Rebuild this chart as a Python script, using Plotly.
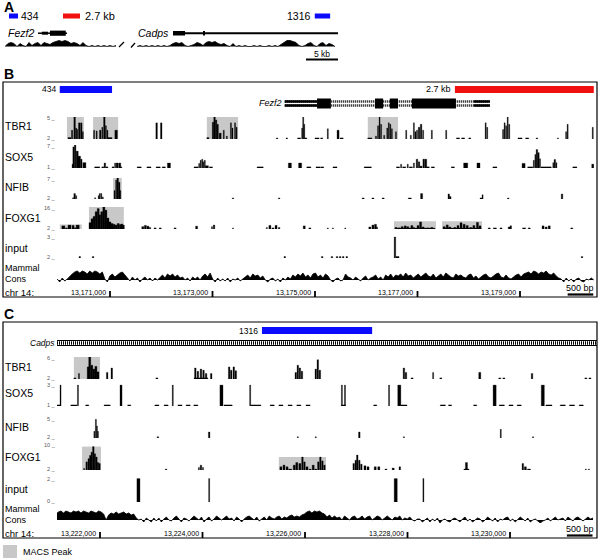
import numpy as np
import plotly.graph_objects as go

# ======================= DATA =======================
# ---- Panel A (kb along the displayed Fezf2 .. Cadps interval) ----
A_VIEW_KB = [0.0, 52.03]
A_REGION_434 = [0.62, 2.03]
A_REGION_27KB = [9.06, 11.72]
A_REGION_1316 = [48.4, 50.8]
A_FEZF2_TX = [5.16, 9.69]
A_FEZF2_UTR = [5.16, 6.72]
A_FEZF2_CDS = [6.72, 9.69]
A_CADPS_TX = [26.25, 52.03]
A_CADPS_EXON_START = [26.25, 30.94]
A_CADPS_EXON_END = [28.13, 31.25]
A_SCALE_5KB = [47.03, 52.03]
# conservation levels (arbitrary units, 0 = baseline)
A_CONS_LEFT_KB = [0.0, 17.34]
A_CONS_LEFT = [0, 3, 4, 3, 0, 3, 1, 0, 4, 1, 3, 4, 1, 4, 3, 2, 4, 5, 6, 5, 6, 5, 3, 4, 3, 1, 4, 1, 0,
               1, 0, 1, 0, 1, 0, 1, 0, 1]
A_CONS_RIGHT_KB = [20.63, 51.56]
A_CONS_RIGHT = [0, 1, 0, 1, 0, 1, 0, 1, 0, 1, 0, 1, 3, 4, 3, 4, 1, 0, 1, 2, 4, 3, 1, 4, 5, 4, 5, 3, 2,
                3, 1, 0, 3, 0, 1, 0, 1, 0, 0, 1, 0, 1, 0, 0, 1, 0, 1, 0, 2, 4, 6, 6, 5, 4, 1, 0, 1, 3,
                4, 1, 0, 3, 4, 1, 3, 2, 0]

# ---- Panel B (chr14, kb) ----
B_VIEW = [13169.966, 13180.444]
B_TICKS = [13171, 13173, 13175, 13177, 13179]
B_TICK_LABELS = ["13,171,000", "13,173,000", "13,175,000", "13,177,000", "13,179,000"]
B_REGION_434 = [13170.02, 13171.04]
B_REGION_27KB = [13177.73, 13180.44]
B_SCALE_500BP = [13179.93, 13180.43]
FEZF2_TX = [13174.41, 13178.41]
FEZF2_EXON_START = [13175.04, 13176.17, 13176.46, 13176.89]
FEZF2_EXON_END = [13175.31, 13176.33, 13176.62, 13177.75]
FEZF2_SOLID_START = [13174.41, 13178.10]
FEZF2_SOLID_END = [13175.04, 13178.41]

B_TBR1_POS = [13170.21, 13170.26, 13170.31, 13170.34, 13170.36, 13170.40, 13170.44, 13170.47,
              13170.69, 13170.74, 13170.81, 13170.85, 13170.89, 13170.92, 13170.95, 13171.00, 13171.12,
              13171.91, 13172.00,
              13172.91, 13173.01, 13173.04, 13173.07, 13173.10, 13173.15, 13173.22, 13173.28, 13173.36, 13173.39, 13173.44, 13173.47,
              13174.26, 13174.45, 13174.69, 13174.75, 13174.77, 13174.79, 13174.82, 13175.04, 13175.13, 13175.25, 13175.45, 13175.52,
              13176.07, 13176.19, 13176.23, 13176.26, 13176.29, 13176.35, 13176.41, 13176.44, 13176.47, 13176.50, 13176.58,
              13176.78, 13176.87, 13176.93, 13176.96, 13176.99, 13177.03, 13177.07, 13177.11, 13177.28, 13177.56,
              13177.79, 13177.89, 13178.02, 13178.33, 13178.36, 13178.67, 13178.70, 13178.73, 13178.76, 13178.79,
              13179.00, 13179.14, 13179.33, 13179.74, 13179.90, 13179.93, 13180.42]
B_TBR1_WID = [0.06, 0.025, 0.03, 0.02, 0.02, 0.03, 0.03, 0.02,
              0.02, 0.02, 0.03, 0.02, 0.03, 0.02, 0.02, 0.08, 0.05,
              0.03, 0.03,
              0.04, 0.03, 0.03, 0.03, 0.03, 0.04, 0.02, 0.02, 0.02, 0.02, 0.02, 0.02,
              0.03, 0.03, 0.06, 0.02, 0.02, 0.02, 0.04, 0.08, 0.04, 0.02, 0.04, 0.06,
              0.08, 0.02, 0.02, 0.02, 0.02, 0.02, 0.02, 0.02, 0.02, 0.02, 0.02,
              0.02, 0.02, 0.02, 0.02, 0.02, 0.03, 0.03, 0.02, 0.02, 0.02,
              0.06, 0.06, 0.04, 0.02, 0.02, 0.02, 0.02, 0.02, 0.02, 0.02,
              0.08, 0.06, 0.03, 0.02, 0.02, 0.02, 0.02]
B_TBR1_VAL = [2.2, 3.2, 5.0, 3.5, 3.3, 4.2, 4.2, 3.0,
              3.2, 3.1, 3.2, 3.6, 5.0, 3.8, 3.2, 2.2, 3.2,
              4.2, 4.2,
              2.2, 4.3, 5.0, 4.6, 4.0, 2.8, 3.2, 2.4, 4.2, 3.5, 4.2, 3.6,
              2.15, 2.15, 2.15, 3.5, 5.0, 4.0, 2.15, 2.15, 2.15, 3.4, 3.2, 2.15,
              2.15, 2.4, 3.8, 5.0, 4.0, 2.5, 3.5, 4.2, 4.0, 3.4, 3.0,
              3.2, 2.5, 4.2, 3.0, 3.2, 3.6, 4.0, 3.2, 3.2, 3.2,
              2.15, 2.15, 2.15, 4.2, 3.6, 3.3, 4.2, 3.8, 5.0, 4.0,
              2.15, 2.15, 2.15, 2.15, 3.0, 4.0, 3.6]

B_SOX5_POS = [13170.27, 13170.29, 13170.32, 13170.36, 13170.40, 13170.44, 13170.50,
              13170.75, 13170.86, 13170.90, 13170.94,
              13171.06, 13171.10, 13171.14, 13171.19, 13171.21,
              13171.57, 13171.76, 13171.94, 13172.05, 13172.15,
              13172.68, 13172.74, 13172.77, 13172.80, 13172.82, 13172.85, 13172.89, 13172.97,
              13173.93, 13174.51, 13174.71, 13174.88, 13175.06, 13175.14, 13175.39, 13176.03,
              13176.62, 13176.68, 13176.74, 13176.81, 13176.87, 13176.93, 13176.99, 13177.03, 13177.07, 13177.12, 13177.16, 13177.20, 13177.30,
              13177.69, 13177.94, 13178.19, 13178.51, 13179.07, 13179.20,
              13179.27, 13179.30, 13179.33, 13179.36, 13179.39, 13179.51,
              13179.65, 13179.68, 13179.71, 13180.07, 13180.42]
B_SOX5_WID = [0.02, 0.03, 0.03, 0.04, 0.05, 0.03, 0.06,
              0.1, 0.04, 0.03, 0.04,
              0.04, 0.02, 0.04, 0.04, 0.04,
              0.08, 0.08, 0.08, 0.06, 0.06,
              0.08, 0.02, 0.02, 0.02, 0.02, 0.02, 0.06, 0.06,
              0.12, 0.06, 0.06, 0.08, 0.08, 0.06, 0.08, 0.14,
              0.06, 0.02, 0.06, 0.02, 0.06, 0.02, 0.03, 0.03, 0.04, 0.03, 0.04, 0.06, 0.06,
              0.06, 0.08, 0.06, 0.08, 0.06, 0.1,
              0.02, 0.02, 0.03, 0.03, 0.02, 0.2,
              0.02, 0.03, 0.02, 0.08, 0.04]
B_SOX5_VAL = [2.0, 6.5, 7.0, 5.4, 4.1, 3.3, 2.4,
              1.3, 1.3, 2.3, 1.3,
              1.3, 2.3, 2.3, 2.3, 1.3,
              1.3, 1.3, 1.3, 1.3, 2.3,
              1.3, 2.2, 3.0, 3.3, 2.6, 3.0, 1.6, 1.3,
              1.3, 2.3, 2.3, 1.3, 1.3, 1.3, 1.3, 1.3,
              1.3, 2.0, 1.3, 2.0, 1.3, 2.3, 3.3, 2.6, 1.5, 3.3, 3.3, 1.3, 1.3,
              1.3, 2.3, 2.3, 1.3, 2.2, 1.3,
              3.0, 4.5, 5.8, 5.0, 3.4, 1.3,
              2.4, 3.2, 2.4, 1.3, 2.0]

B_NFIB_POS = [13170.28, 13170.31, 13170.34, 13170.71, 13170.78, 13170.80, 13170.83, 13170.86,
              13171.09, 13171.12, 13171.15, 13171.18, 13171.20,
              13173.40, 13174.30, 13175.94, 13176.13, 13176.33, 13176.85, 13177.08, 13177.61, 13177.64,
              13178.24, 13178.27, 13178.77, 13179.82]
B_NFIB_WID = [0.02, 0.03, 0.02, 0.02, 0.02, 0.02, 0.02, 0.02,
              0.02, 0.02, 0.03, 0.03, 0.02,
              0.03, 0.03, 0.04, 0.04, 0.04, 0.06, 0.04, 0.03, 0.03, 0.04, 0.02, 0.03, 0.03]
B_NFIB_VAL = [2.3, 3.3, 2.8, 2.3, 2.8, 3.3, 3.3, 2.5,
              4.0, 6.5, 7.0, 6.0, 4.0,
              2.25, 2.25, 2.25, 2.25, 2.25, 2.25, 3.3, 3.2, 2.6, 2.25, 3.0, 2.25, 3.2]

B_FOXG1_POS = [13170.09, 13170.15, 13170.21, 13170.28, 13170.32, 13170.37,
               13170.61, 13170.65, 13170.69, 13170.73, 13170.77, 13170.80, 13170.84, 13170.88, 13170.92,
               13170.96, 13171.00, 13171.04, 13171.08, 13171.12, 13171.16, 13171.20, 13171.23, 13171.26,
               13171.64, 13171.69, 13171.74, 13171.78, 13171.88, 13171.98, 13172.27, 13172.69, 13172.99,
               13173.03, 13173.40, 13174.06, 13174.12, 13174.18, 13174.24, 13174.30, 13174.79, 13174.90,
               13175.25, 13175.35, 13175.59, 13176.07, 13176.13, 13176.18, 13176.21,
               13176.95, 13176.58, 13176.64, 13176.70, 13176.76, 13176.81, 13176.89, 13176.93, 13177.01,
               13177.06, 13177.11, 13177.20, 13177.28,
               13177.87, 13177.52, 13177.58, 13177.63, 13177.73, 13177.79, 13177.85, 13177.91, 13177.97,
               13178.04, 13178.10, 13178.17, 13178.22,
               13178.40, 13178.51, 13178.63, 13178.79, 13178.82, 13179.08, 13179.18, 13179.45, 13179.51,
               13179.57, 13180.01]
B_FOXG1_WID = [0.06, 0.04, 0.06, 0.04, 0.03, 0.06,
               0.04, 0.04, 0.04, 0.04, 0.04, 0.04, 0.04, 0.04, 0.04,
               0.04, 0.04, 0.04, 0.04, 0.04, 0.04, 0.04, 0.04, 0.04,
               0.04, 0.04, 0.04, 0.03, 0.04, 0.04, 0.04, 0.04, 0.02,
               0.03, 0.02, 0.02, 0.04, 0.04, 0.04, 0.03, 0.04, 0.04,
               0.02, 0.02, 0.02, 0.04, 0.04, 0.04, 0.02,
               0.78, 0.04, 0.04, 0.04, 0.04, 0.04, 0.04, 0.03, 0.04,
               0.04, 0.04, 0.04, 0.04,
               0.74, 0.04, 0.04, 0.04, 0.04, 0.04, 0.04, 0.04, 0.04,
               0.04, 0.04, 0.04, 0.04,
               0.04, 0.06, 0.04, 0.04, 0.03, 0.06, 0.04, 0.04, 0.04,
               0.04, 0.04]
B_FOXG1_VAL = [4.0, 2.7, 4.5, 4.3, 2.8, 4.5,
               6.0, 8.5, 10.0, 13.0, 15.0, 11.0, 13.0, 16.0, 14.0,
               9.0, 6.5, 5.5, 5.0, 4.5, 5.5, 4.8, 5.2, 4.5,
               3.5, 4.3, 3.8, 3.0, 2.7, 2.7, 2.7, 3.8, 3.5,
               4.5, 2.7, 3.0, 4.3, 2.7, 4.3, 3.0, 4.0, 2.7,
               2.7, 2.7, 2.7, 3.3, 4.5, 5.0, 3.2,
               2.6, 3.0, 2.7, 3.5, 4.0, 3.5, 4.2, 3.0, 4.2,
               6.5, 3.3, 2.7, 3.0,
               2.6, 3.5, 4.6, 3.3, 3.0, 4.2, 6.0, 5.0, 4.2,
               3.0, 4.2, 6.2, 4.0,
               2.7, 2.7, 2.7, 3.3, 4.0, 2.7, 2.7, 4.0, 3.3,
               4.0, 2.7]

B_INPUT_POS = [13170.41, 13170.67, 13174.41, 13175.14, 13175.33, 13175.43, 13175.49, 13175.55,
               13175.62, 13176.56, 13176.61, 13180.21]
B_INPUT_WID = [0.03, 0.03, 0.03, 0.03, 0.03, 0.03, 0.03, 0.03, 0.03, 0.03, 0.06, 0.03]
B_INPUT_VAL = [2.07, 2.07, 2.07, 2.07, 2.07, 2.07, 2.07, 2.07, 2.07, 2.95, 2.07, 2.07]

B_TBR1_MACS = dict(start=[13170.16, 13170.67, 13172.89, 13176.03], end=[13170.49, 13171.16, 13173.50, 13176.62], top=[5, 5, 5, 5])
B_NFIB_MACS = dict(start=[13171.06], end=[13171.23], top=[7])
B_FOXG1_MACS = dict(start=[13170.02, 13170.59, 13176.54, 13177.48], end=[13170.45, 13171.27, 13177.36, 13178.26], top=[4.9, 16, 7, 7])

B_CONS_RANGE = [13169.97, 13180.44]
B_CONS = [1, -2, 2, -1, 1,
          4, 6, 8, 9, 7, 9, 8, 6, 9, 7, 9, 8, 6, 8,
          1, -2,
          4, 6, 3, 5,
          7, 8, 5,
          2, -1, 3, 0, 2, -2, 1, 3, 0, 2, -1, 2, 0,
          3, 5, 2, 6, 4, 6, 3, 5, 2, 3,
          0, 2, -1, 3, 1, 3, 0, 4,
          6, 3, 7,
          1, -2, 2, -1, 1, -1, 2, -2, 1, 0, 2, -1, 1,
          3, 5, 2, 6, 4, 5, 2, 4,
          0, -2, 1, 2, -1, 1, -2, 2, 0, 3, 1,
          5, 3, 6, 4, 7, 3, 5, 2, 6, 7, 3, 5, 2, 6, 4,
          0, -2, 1, 2, -1, 0,
          6, 3,
          2, 0, 3, 1, -1, 2, 4, 0, 2, 3, 5, 1, 3, 0,
          5, 3, 6, 2, 5, 4, 6, 3, 7, 4, 5, 2, 4, 6, 3, 5, 7, 4, 3, 6, 2, 4, 6, 3, 7, 5, 3, 2,
          6, 4, 5, 3, 2, 5, 6, 2, 4, 1, 3, 5, 6, 3, 2, 4, 6, 7, 3, 2, 5, 2, 1, 3, 5, 6, 3, 6,
          7, 8, 6, 9, 8, 6, 8, 7, 9, 6, 5, 7, 4, 2,
          1, -2, 2, -1, 1, -2, 1, 2, -1, -2, 1, 0, 2, 0]

# ---- Panel C (chr14, kb) ----
C_VIEW = [13221.161, 13231.639]
C_TICKS = [13222, 13224, 13226, 13228, 13230]
C_TICK_LABELS = ["13,222,000", "13,224,000", "13,226,000", "13,228,000", "13,230,000"]
C_REGION_1316 = [13225.16, 13227.31]
C_SCALE_500BP = [13231.11, 13231.61]

C_TBR1_POS = [13221.51, 13221.59, 13221.77, 13221.80, 13221.84, 13221.88, 13221.92, 13221.96, 13222.14, 13222.23,
              13223.11, 13223.97, 13223.86, 13223.91, 13223.97, 13224.02, 13224.07, 13224.17, 13224.52, 13224.56,
              13224.61, 13224.65, 13225.82, 13225.86, 13225.90, 13225.94, 13226.21, 13226.25, 13226.29, 13227.93,
              13227.97, 13228.09, 13228.50, 13228.65, 13229.41, 13229.80, 13229.88, 13230.43, 13231.48, 13231.56]
C_TBR1_WID = [0.04, 0.02, 0.04, 0.04, 0.04, 0.04, 0.04, 0.04, 0.03, 0.03,
              0.04, 0.27, 0.03, 0.03, 0.03, 0.03, 0.03, 0.03, 0.03, 0.03,
              0.03, 0.03, 0.03, 0.03, 0.03, 0.03, 0.03, 0.03, 0.03, 0.03,
              0.03, 0.04, 0.02, 0.04, 0.04, 0.04, 0.04, 0.03, 0.04, 0.04]
C_TBR1_VAL = [2.2, 3.0, 4.2, 6.0, 4.5, 3.8, 4.3, 3.3, 3.2, 4.0,
              2.2, 2.2, 4.0, 3.4, 3.8, 3.6, 3.0, 3.0, 4.2, 3.6,
              4.2, 3.5, 3.2, 4.5, 4.0, 3.4, 3.8, 5.5, 3.6, 4.0,
              3.2, 2.2, 3.2, 2.2, 3.2, 2.2, 2.2, 3.0, 2.2, 2.2]

C_SOX5_POS = [13221.18, 13221.23, 13221.49, 13221.57, 13221.75, 13222.14, 13222.41, 13222.57, 13223.11, 13223.29,
              13223.42, 13223.56, 13223.72, 13223.87, 13224.37, 13224.50, 13224.93, 13225.04, 13225.36, 13225.53,
              13225.71, 13225.88, 13226.06, 13226.72, 13226.75, 13226.78, 13227.37, 13227.64, 13227.84, 13227.93,
              13228.69, 13228.83, 13229.32, 13229.70, 13229.84, 13230.02, 13230.18, 13230.64, 13230.76, 13231.03,
              13231.21, 13231.39]
C_SOX5_WID = [0.08, 0.02, 0.12, 0.02, 0.06, 0.12, 0.04, 0.06, 0.08, 0.08,
              0.02, 0.08, 0.08, 0.08, 0.06, 0.16, 0.02, 0.2, 0.08, 0.08,
              0.08, 0.08, 0.08, 0.02, 0.08, 0.02, 0.06, 0.02, 0.06, 0.12,
              0.1, 0.06, 0.06, 0.06, 0.1, 0.08, 0.08, 0.06, 0.12, 0.1,
              0.1, 0.08]
C_SOX5_VAL = [1.1, 2.9, 1.1, 2.9, 1.1, 1.1, 2.9, 1.1, 1.1, 1.1,
              2.9, 1.1, 1.1, 1.1, 2.9, 1.1, 2.9, 1.1, 1.1, 1.1,
              1.1, 1.1, 1.1, 2.9, 1.1, 2.9, 1.1, 2.9, 2.9, 1.1,
              1.1, 1.1, 1.1, 2.9, 1.1, 1.1, 1.1, 2.9, 1.1, 1.1,
              1.1, 1.1]

C_NFIB_POS = [13221.89, 13221.92, 13221.94, 13221.96, 13223.13, 13224.13, 13225.86, 13226.21, 13227.06, 13227.93,
              13229.82, 13230.45]
C_NFIB_WID = [0.02, 0.02, 0.02, 0.02, 0.03, 0.03, 0.02, 0.02, 0.03, 0.02, 0.02, 0.02]
C_NFIB_VAL = [3.0, 4.8, 3.8, 3.0, 2.2, 2.9, 2.2, 2.2, 2.9, 2.2, 3.3, 2.2]

C_FOXG1_POS = [13221.69, 13221.74, 13221.78, 13221.81, 13221.84, 13221.87, 13221.90, 13221.93, 13221.96, 13221.99,
               13223.29, 13223.93, 13223.97, 13224.01, 13225.53, 13225.59, 13225.65, 13225.71, 13225.79, 13225.84,
               13225.90, 13225.95, 13225.99, 13226.04, 13226.10, 13226.16, 13226.21, 13226.26, 13226.30, 13226.34,
               13226.38, 13226.95, 13226.99, 13227.02, 13227.06, 13227.10, 13227.17, 13227.23, 13227.37, 13227.44,
               13227.58, 13227.72, 13227.85, 13229.15, 13229.15, 13230.25, 13230.30, 13230.37, 13231.48, 13231.54]
C_FOXG1_WID = [0.02, 0.03, 0.03, 0.03, 0.03, 0.03, 0.03, 0.03, 0.03, 0.03,
               0.03, 0.02, 0.03, 0.02, 0.04, 0.04, 0.04, 0.06, 0.04, 0.04,
               0.04, 0.03, 0.03, 0.04, 0.04, 0.04, 0.04, 0.03, 0.03, 0.03,
               0.03, 0.03, 0.03, 0.03, 0.03, 0.03, 0.04, 0.04, 0.04, 0.04,
               0.04, 0.04, 0.03, 0.1, 0.04, 0.03, 0.04, 0.06, 0.02, 0.02]
C_FOXG1_VAL = [2.5, 4.5, 5.5, 6.5, 7.5, 9.2, 7.0, 6.0, 4.3, 4.0,
               2.3, 2.8, 3.5, 2.8, 3.0, 3.5, 3.0, 2.3, 3.5, 4.3,
               4.0, 6.0, 4.5, 3.0, 2.3, 3.5, 2.3, 4.5, 6.0, 4.8,
               3.5, 4.0, 5.0, 6.6, 5.0, 3.8, 3.3, 3.0, 3.0, 3.0,
               2.3, 2.6, 3.0, 2.3, 4.3, 4.0, 3.0, 2.3, 2.3, 2.3]

C_INPUT_POS = [13222.75, 13224.13, 13227.77, 13228.31]
C_INPUT_WID = [0.06, 0.02, 0.06, 0.02]
C_INPUT_VAL = [1.95, 1.95, 1.95, 1.95]

C_TBR1_MACS = dict(start=[13221.49], end=[13222.00], top=[6])
C_FOXG1_MACS = dict(start=[13221.65, 13225.49], end=[13222.02, 13226.41], top=[9.2, 6])

C_CONS_RANGE = [13221.14, 13231.62]
C_CONS = [6, 8, 9, 7, 9, 8, 7, 9, 8, 9, 7, 9, 8, 7, 9, 8, 7, 9, 8, 6,
          0,
          5, 7, 6, 8, 6, 7, 8, 6, 7, 5, 6,
          2, 0,
          1, -2, 2, 0, -2, 2, -1, 2, -2, 1, 3, 0, -1, 2, 4, 1, -2, 2, 1, -1,
          2, 4, 2, 0, 3, -2, 1, 3, -1, 1, 4, 2, 0, 2, 4, 1, 2, -1, 3, 1,
          -2, 1, 3, 4, 2, 0, 3, -1, 1, 3, 0, 4, 2, 1, 3, 4, 1, 3, 2, 4, 5, 3, 4,
          3, 5, 6,
          8, 9, 7, 9, 8, 9, 7, 6,
          3, 5, 2, 4, 2,
          3, 0, 4, 2, 0, 3, 4, 1, 2, 4, 1, 3, 4, 0, 2, 4, 3, 0, 2, 4, 2, 0, 3, 2, 4, 0, 2, 1, 3, 0, -1, 1,
          1, -2, 0, 2, -2, 1, -1, 2, -3, 0, 1, -1, -2, 1, 2, 0, -2, 1, 3, -1, 1, -2, 0, 2, 1, -2, 0, 3, 1, -1,
          2, -2, 1, 0, 2, 3, -1, 1, -2, 1, 3, 1, -1, 2, -2, 0, 1, -1, -3, -1, 0, 2, -1, 1, 3, 0, 1, 2, -1, 3,
          1, -1, 2, 3, 1, -1, 1, 3, 1, 2]

TRACK_NAMES = ["TBR1", "SOX5", "NFIB", "FOXG1", "input"]
B_SCALES = [(2, 5), (1, 7), (2, 7), (2, 16), (2, 3)]
C_SCALES = [(2, 6), (1, 3), (2, 5), (2, 10), (0, 2)]

# ======================= LAYOUT HELPERS =======================
W, H = 600, 560
FONT = "Liberation Sans, Arial, sans-serif"
GRAY = "#c8c8c8"
BLUE = "#0a0aff"
RED = "#f01010"


def PX(x):
    return x / W


def PY(y):
    return 1 - y / H


fig = go.Figure()
shapes = []
anns = []
layout_axes = {}


def text(x, y, s, size, anchor="left", color="black", bold=False, italic=False, xref="paper", xshift=0):
    if bold:
        s = "<b>" + s + "</b>"
    if italic:
        s = "<i>" + s + "</i>"
    anns.append(dict(x=(PX(x) if xref == "paper" else x), y=PY(y), xref=xref, yref="paper", text=s,
                     showarrow=False, xanchor=anchor, yanchor="middle", xshift=xshift, borderpad=0,
                     font=dict(family=FONT, size=size, color=color)))


def prect(x0, x1, y0, y1, color, xref="paper", layer="above", line_color=None, line_width=0):
    shapes.append(dict(type="rect", xref=xref, yref="paper",
                       x0=(PX(x0) if xref == "paper" else x0), x1=(PX(x1) if xref == "paper" else x1),
                       y0=PY(y1), y1=PY(y0), fillcolor=color, layer=layer,
                       line=dict(width=line_width, color=line_color or color)))


def pline(x0, x1, y0, y1, width=1, color="black", xref="paper", dash="solid"):
    shapes.append(dict(type="line", xref=xref, yref="paper",
                       x0=(PX(x0) if xref == "paper" else x0), x1=(PX(x1) if xref == "paper" else x1),
                       y0=PY(y0), y1=PY(y1), line=dict(width=width, color=color, dash=dash)))


def bars(pos, wid, val, xa, ya):
    fig.add_trace(go.Bar(x=pos, y=val, width=wid, xaxis=xa, yaxis=ya, hoverinfo="skip",
                         marker=dict(color="black", line=dict(width=0.3, color="black"))))


def cons(xs, vals, xa, ya):
    fig.add_trace(go.Scatter(x=xs, y=vals, xaxis=xa, yaxis=ya, mode="lines", hoverinfo="skip",
                             line=dict(color="black", width=0.8), fill="tozeroy", fillcolor="black"))


def macs(m, xa, ya, lo):
    for s, e, t in zip(m["start"], m["end"], m["top"]):
        shapes.append(dict(type="rect", xref=xa, yref=ya, x0=s, x1=e, y0=lo, y1=t,
                           fillcolor=GRAY, line=dict(width=0), layer="below"))


# ======================= PANEL A =======================
text(3, 7, "A", 14, bold=True)
layout_axes["xaxis"] = dict(domain=[PX(5), PX(338)], range=A_VIEW_KB, anchor="y", visible=False, fixedrange=True)
layout_axes["yaxis"] = dict(domain=[PY(48), PY(40)], range=[-1.5, 6.5], anchor="x", visible=False, fixedrange=True)
cons(np.linspace(A_CONS_LEFT_KB[0], A_CONS_LEFT_KB[1], len(A_CONS_LEFT)), A_CONS_LEFT, "x", "y")
cons(np.linspace(A_CONS_RIGHT_KB[0], A_CONS_RIGHT_KB[1], len(A_CONS_RIGHT)), A_CONS_RIGHT, "x", "y")
prect(A_REGION_434[0], A_REGION_434[1], 13.5, 18.5, BLUE, xref="x")
prect(A_REGION_27KB[0], A_REGION_27KB[1], 13.5, 18.5, RED, xref="x")
prect(A_REGION_1316[0], A_REGION_1316[1], 13.5, 18.5, BLUE, xref="x")
text(20, 16, "434", 10.5)
text(84, 16, "2.7 kb", 11)
text(312, 16, "1316", 10.5, anchor="right")
text(35, 33, "Fezf2", 10.5, anchor="right", italic=True)
text(170, 33, "Cadps", 10.5, anchor="right", italic=True)
pline(A_FEZF2_TX[0], A_FEZF2_TX[1], 33.2, 33.2, width=1.5, xref="x")
prect(A_FEZF2_UTR[0] + 0.6, A_FEZF2_UTR[1], 31.7, 34.7, "black", xref="x")
prect(A_FEZF2_CDS[0] + 0.3, A_FEZF2_CDS[1] - 0.2, 30.6, 35.8, "black", xref="x")
pline(A_CADPS_TX[0], A_CADPS_TX[1], 33.2, 33.2, width=2, xref="x")
for s, e in zip(A_CADPS_EXON_START, A_CADPS_EXON_END):
    prect(s, e, 31, 35.5, "black", xref="x")
pline(119, 124, 47, 42, width=1.3)
pline(131, 135, 47.5, 43, width=1.3)
pline(A_SCALE_5KB[0], A_SCALE_5KB[1], 59.5, 59.5, width=2, xref="x")
text(322, 54, "5 kb", 8.5, anchor="center")


# ======================= PANELS B & C =======================
def panel(letter, top_box, bot_box, xa_name, xa_id, view, ydoms, scales, tracks, macs_list,
          cons_range, cons_vals, cons_dom, first_y, label_ys, ticks, tick_labels, scale_bar, tick_y):
    text(3, top_box - 8, letter, 14, bold=True)
    prect(3, 597, top_box, bot_box, "rgba(0,0,0,0)", line_color="black", line_width=1.2)
    layout_axes[xa_name] = dict(domain=[PX(57), PX(594)], range=view, anchor="y%d" % first_y,
                                visible=False, fixedrange=True)
    for i, ((t, b), (lo, hi), trk, m) in enumerate(zip(ydoms, scales, tracks, macs_list)):
        yid = first_y + i
        layout_axes["yaxis%d" % yid] = dict(domain=[PY(b), PY(t)], range=[lo, hi], anchor=xa_id,
                                            visible=False, fixedrange=True)
        if m is not None:
            macs(m, xa_id, "y%d" % yid, lo)
        bars(trk[0], trk[1], trk[2], xa_id, "y%d" % yid)
        text(57, t + 1, "%d _" % hi, 5.5, anchor="right", color="#555")
        text(57, b - 1, "%d _" % lo, 5.5, anchor="right", color="#555")
        text(4, label_ys[i], TRACK_NAMES[i], 10.5)
    cid = first_y + len(ydoms)
    layout_axes["yaxis%d" % cid] = dict(domain=[PY(cons_dom[1]), PY(cons_dom[0])], range=cons_dom[2],
                                        anchor=xa_id, visible=False, fixedrange=True)
    cons(np.linspace(cons_range[0], cons_range[1], len(cons_vals)), cons_vals, xa_id, "y%d" % cid)
    text(4, label_ys[5], "Mammal", 9)
    text(4, label_ys[6], "Cons", 9)
    text(4, tick_y, "chr 14:", 9.5)
    for tk, tl in zip(ticks, tick_labels):
        text(tk, tick_y, tl, 7, anchor="right", xref=xa_id, xshift=-3)
        pline(tk, tk, tick_y - 1, bot_box, width=1.8, xref=xa_id)
    pline(scale_bar[0], scale_bar[1], bot_box - 2.5, bot_box - 2.5, width=2.2, xref=xa_id)
    text(580, bot_box - 9, "500 bp", 9, anchor="center")


panel("B", 82, 297, "xaxis2", "x2", B_VIEW,
      [(117, 139), (145, 168), (178, 199), (207, 229), (236, 258)], B_SCALES,
      [(B_TBR1_POS, B_TBR1_WID, B_TBR1_VAL), (B_SOX5_POS, B_SOX5_WID, B_SOX5_VAL),
       (B_NFIB_POS, B_NFIB_WID, B_NFIB_VAL), (B_FOXG1_POS, B_FOXG1_WID, B_FOXG1_VAL),
       (B_INPUT_POS, B_INPUT_WID, B_INPUT_VAL)],
      [B_TBR1_MACS, None, B_NFIB_MACS, B_FOXG1_MACS, None],
      B_CONS_RANGE, B_CONS, (265, 283, [-3, 15]), 2,
      [126, 157, 187, 218, 248, 268, 279], B_TICKS, B_TICK_LABELS, B_SCALE_500BP, 292)

# panel B annotation tracks
prect(B_REGION_434[0], B_REGION_434[1], 86, 93, BLUE, xref="x2")
prect(B_REGION_27KB[0], B_REGION_27KB[1], 86, 93, RED, xref="x2")
text(57, 89, "434", 8.5, anchor="right")
text(452, 89, "2.7 kb", 9, anchor="right")
text(283, 103, "Fezf2", 9, anchor="right", italic=True)
for yy in (101.5, 105.5):
    pline(FEZF2_TX[0], FEZF2_TX[1], yy, yy, width=2.5, xref="x2", dash="1px,1px")
    for s, e in zip(FEZF2_SOLID_START, FEZF2_SOLID_END):
        pline(s, e, yy, yy, width=2.5, xref="x2")
for s, e in zip(FEZF2_EXON_START, FEZF2_EXON_END):
    prect(s, e, 98.5, 108.5, "black", xref="x2")

panel("C", 322, 538, "xaxis3", "x3", C_VIEW,
      [(357, 379), (384, 406), (418, 438), (444, 470), (478, 502)], C_SCALES,
      [(C_TBR1_POS, C_TBR1_WID, C_TBR1_VAL), (C_SOX5_POS, C_SOX5_WID, C_SOX5_VAL),
       (C_NFIB_POS, C_NFIB_WID, C_NFIB_VAL), (C_FOXG1_POS, C_FOXG1_WID, C_FOXG1_VAL),
       (C_INPUT_POS, C_INPUT_WID, C_INPUT_VAL)],
      [C_TBR1_MACS, None, None, C_FOXG1_MACS, None],
      C_CONS_RANGE, C_CONS, (509, 523, [-3, 11]), 8,
      [367, 393, 427, 457, 489, 509, 520], C_TICKS, C_TICK_LABELS, C_SCALE_500BP, 533)

prect(C_REGION_1316[0], C_REGION_1316[1], 327, 334, BLUE, xref="x3")
text(259, 331, "1316", 8.5, anchor="right")
text(56, 343, "Cadps", 8.5, anchor="right", italic=True)
pline(57, 597, 340.5, 340.5, width=1)
pline(57, 597, 345.5, 345.5, width=1)
pline(57, 597, 343, 343, width=3.5, dash="1px,1px")

# legend
prect(3, 17, 545, 558, GRAY)
text(22, 552, "MACS Peak", 9)

fig.update_layout(width=W, height=H, autosize=False, margin=dict(l=0, r=0, t=0, b=0),
                  paper_bgcolor="white", plot_bgcolor="rgba(0,0,0,0)", showlegend=False,
                  barmode="overlay", bargap=0, shapes=shapes, annotations=anns, **layout_axes)
fig.write_html("out.html", config={"displayModeBar": False, "staticPlot": True},
               post_script="document.body.style.margin='0px';")
